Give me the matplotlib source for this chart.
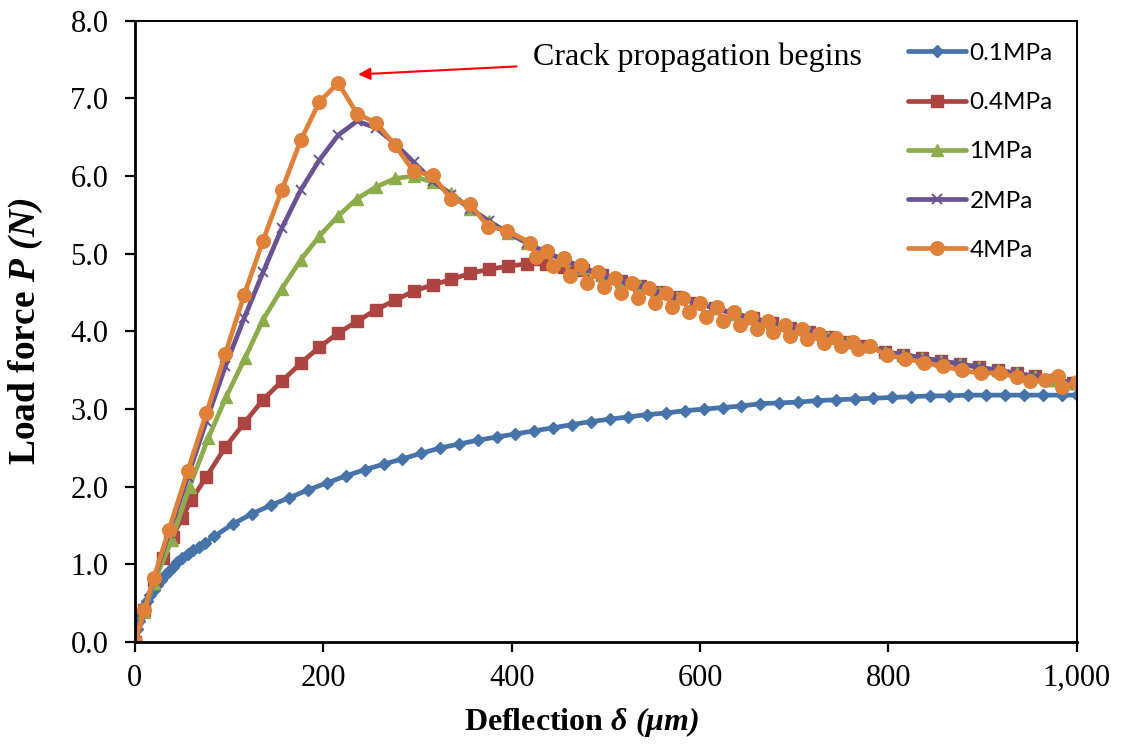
import matplotlib
matplotlib.use("Agg")
import matplotlib.pyplot as plt
from matplotlib.ticker import FuncFormatter, MultipleLocator

plt.rcParams["font.family"] = ["Liberation Serif", "DejaVu Serif"]
plt.rcParams["mathtext.fontset"] = "custom"
plt.rcParams["mathtext.rm"] = "Liberation Serif:italic:bold"
plt.rcParams["mathtext.it"] = "Liberation Serif:italic:bold"
plt.rcParams["mathtext.bf"] = "Liberation Serif:bold"

# ---- data: deflection (um) and load force (N) ----
x_01 = [0, 2, 4, 6, 8, 10, 13, 16, 20, 24, 28, 32, 36, 40, 45, 50, 56, 62, 68, 74,
        84, 104, 124, 144, 164, 184, 204, 224, 244, 264, 284, 304, 324, 344, 364,
        384, 404, 424, 444, 464, 484, 504, 524, 544, 564, 584, 604, 624, 644, 664,
        684, 704, 724, 744, 764, 784, 804, 824, 844, 864, 884, 904, 924, 944, 964,
        984, 1000]
p_01 = [0.00, 0.17, 0.27, 0.35, 0.41, 0.46, 0.53, 0.60, 0.67, 0.74, 0.80, 0.86, 0.92,
        0.97, 1.03, 1.08, 1.13, 1.18, 1.22, 1.27, 1.36, 1.52, 1.65, 1.76, 1.86, 1.96,
        2.05, 2.14, 2.22, 2.29, 2.36, 2.43, 2.50, 2.55, 2.60, 2.64, 2.68, 2.72, 2.76,
        2.80, 2.84, 2.87, 2.90, 2.93, 2.95, 2.98, 3.00, 3.02, 3.04, 3.07, 3.08, 3.09,
        3.11, 3.12, 3.13, 3.14, 3.15, 3.16, 3.17, 3.17, 3.18, 3.18, 3.18, 3.18, 3.18,
        3.18, 3.18]

x_04 = [0, 10, 20, 30, 40, 50, 60, 76, 96, 116, 136, 156, 176, 196, 216, 236, 256,
        276, 296, 316, 336, 356, 376, 396, 416, 436, 456, 476, 496, 516, 536, 556,
        576, 596, 616, 636, 656, 676, 696, 716, 736, 756, 776, 796, 816, 836, 856,
        876, 896, 916, 936, 956, 976, 996, 1000]
p_04 = [0.00, 0.41, 0.80, 1.08, 1.35, 1.60, 1.83, 2.13, 2.51, 2.82, 3.12, 3.36, 3.59,
        3.80, 3.98, 4.13, 4.28, 4.40, 4.52, 4.60, 4.67, 4.75, 4.80, 4.84, 4.87, 4.87,
        4.83, 4.79, 4.73, 4.65, 4.58, 4.51, 4.44, 4.37, 4.30, 4.23, 4.17, 4.11, 4.05,
        3.99, 3.93, 3.87, 3.81, 3.74, 3.70, 3.66, 3.62, 3.58, 3.54, 3.50, 3.46, 3.42,
        3.38, 3.34, 3.33]

x_1 = [0, 10, 20, 39, 58, 78, 97, 117, 136, 156, 176, 196, 216, 236, 256, 276, 296,
       316, 336, 356, 376, 396, 416, 436, 456, 476, 496, 516, 536, 556, 576, 596,
       616, 636, 656, 676, 696, 716, 736, 756, 776, 796, 816, 836, 856, 876, 896,
       916, 936, 956, 976, 996, 1000]
p_1 = [0.00, 0.39, 0.76, 1.31, 2.00, 2.63, 3.16, 3.66, 4.15, 4.55, 4.92, 5.23, 5.49,
       5.71, 5.86, 5.97, 6.00, 5.92, 5.78, 5.58, 5.42, 5.27, 5.14, 5.02, 4.92, 4.82,
       4.73, 4.65, 4.58, 4.51, 4.44, 4.37, 4.30, 4.23, 4.17, 4.11, 4.05, 3.99, 3.93,
       3.87, 3.81, 3.74, 3.70, 3.66, 3.62, 3.58, 3.54, 3.50, 3.46, 3.42, 3.38, 3.34,
       3.33]

x_2 = [0, 10, 20, 36, 56, 76, 96, 116, 136, 156, 176, 196, 216, 236, 256, 276, 296,
       316, 336, 356, 376, 396, 416, 436, 456, 476, 496, 516, 536, 556, 576, 596,
       616, 636, 656, 676, 696, 716, 736, 756, 776, 796, 816, 836, 856, 876, 896,
       916, 936, 956, 976, 996, 1000]
p_2 = [0.00, 0.40, 0.80, 1.40, 2.12, 2.85, 3.55, 4.17, 4.76, 5.33, 5.82, 6.21, 6.53,
       6.71, 6.62, 6.42, 6.18, 5.94, 5.76, 5.58, 5.42, 5.27, 5.14, 5.02, 4.92, 4.82,
       4.73, 4.65, 4.58, 4.51, 4.44, 4.37, 4.30, 4.23, 4.17, 4.11, 4.05, 3.99, 3.93,
       3.87, 3.81, 3.74, 3.70, 3.66, 3.62, 3.58, 3.54, 3.50, 3.46, 3.42, 3.38, 3.34,
       3.33]

x_4 = [0, 10, 20, 36, 56, 76, 96, 116, 136, 156, 176, 196, 216, 236, 256, 276, 296,
       316, 336, 356, 375, 395, 420, 426, 438, 444, 456, 462, 474, 480, 492, 498,
       510, 516, 528, 534, 546, 552, 564, 570, 582, 588, 600, 606, 618, 624, 636,
       642, 654, 660, 672, 678, 690, 696, 708, 714, 726, 732, 744, 750, 762, 768,
       780, 798, 818, 838, 858, 878, 898, 918, 936, 950, 966, 980, 984, 1000]
p_4 = [0.00, 0.41, 0.82, 1.44, 2.20, 2.95, 3.71, 4.47, 5.17, 5.82, 6.46, 6.96, 7.20,
       6.80, 6.69, 6.40, 6.06, 6.01, 5.70, 5.64, 5.35, 5.30, 5.14, 4.96, 5.04, 4.84,
       4.94, 4.72, 4.85, 4.63, 4.77, 4.57, 4.69, 4.50, 4.62, 4.43, 4.56, 4.37, 4.49,
       4.31, 4.43, 4.25, 4.37, 4.19, 4.31, 4.14, 4.25, 4.08, 4.19, 4.03, 4.14, 3.99,
       4.08, 3.94, 4.03, 3.90, 3.97, 3.85, 3.92, 3.81, 3.87, 3.77, 3.81, 3.70, 3.65,
       3.60, 3.55, 3.50, 3.46, 3.47, 3.41, 3.36, 3.37, 3.42, 3.28, 3.35]

series = [
    ("0.1MPa", x_01, p_01, "#4573AA", "D", 6.0, {}),
    ("0.4MPa", x_04, p_04, "#AC4441", "s", 8.0, {}),
    ("1MPa", x_1, p_1, "#8DAC4B", "^", 8.0, {}),
    ("2MPa", x_2, p_2, "#6A5393", "x", 7.0, {"markeredgewidth": 1.4}),
    ("4MPa", x_4, p_4, "#E0813A", "o", 9.8, {}),
]

fig = plt.figure(figsize=(11.24, 7.44), dpi=100)
ax = fig.add_axes([0.120, 0.137, 0.838, 0.835])

for label, xs, ys, color, marker, ms, extra in series:
    ax.plot(xs, ys, color=color, linewidth=3.4, marker=marker, markersize=ms,
            markerfacecolor=color, markeredgecolor=color, label=label,
            solid_joinstyle="round", solid_capstyle="round", **extra)

ax.set_xlim(0, 1000)
ax.set_ylim(0, 8.0)
ax.xaxis.set_major_locator(MultipleLocator(200))
ax.yaxis.set_major_locator(MultipleLocator(1.0))
ax.xaxis.set_major_formatter(FuncFormatter(lambda v, _: f"{v:,.0f}"))
ax.yaxis.set_major_formatter(FuncFormatter(lambda v, _: f"{v:.1f}"))
ax.tick_params(axis="both", direction="out", length=7, width=1.6,
               labelsize=22, colors="black")
ax.tick_params(axis="x", top=False, pad=9)
ax.tick_params(axis="y", right=False, pad=12)

for side in ("left", "bottom"):
    ax.spines[side].set_linewidth(2.0)
for side in ("top", "right"):
    ax.spines[side].set_linewidth(1.4)

ax.set_xlabel(r"Deflection $\delta$ $(\mu m)$", fontsize=23, fontweight="bold")
ax.xaxis.set_label_coords(0.4745, -0.101)
ax.set_ylabel(r"Load force $P$ $(N)$", fontsize=27,
              fontweight="bold", labelpad=18)

ax.annotate("Crack propagation begins", xy=(237, 7.31), xytext=(423, 7.53),
            fontsize=23, va="center", ha="left",
            arrowprops=dict(arrowstyle="-|>", color="red", lw=1.5,
                            mutation_scale=18, shrinkA=10, shrinkB=0))

leg = ax.legend(loc="upper left", bbox_to_anchor=(0.81, 0.98), frameon=False,
                prop={"family": "Lato", "size": 17.5}, handlelength=2.4,
                labelspacing=1.16, handletextpad=0.15, borderaxespad=0)

fig.savefig("out.png", dpi=100)
